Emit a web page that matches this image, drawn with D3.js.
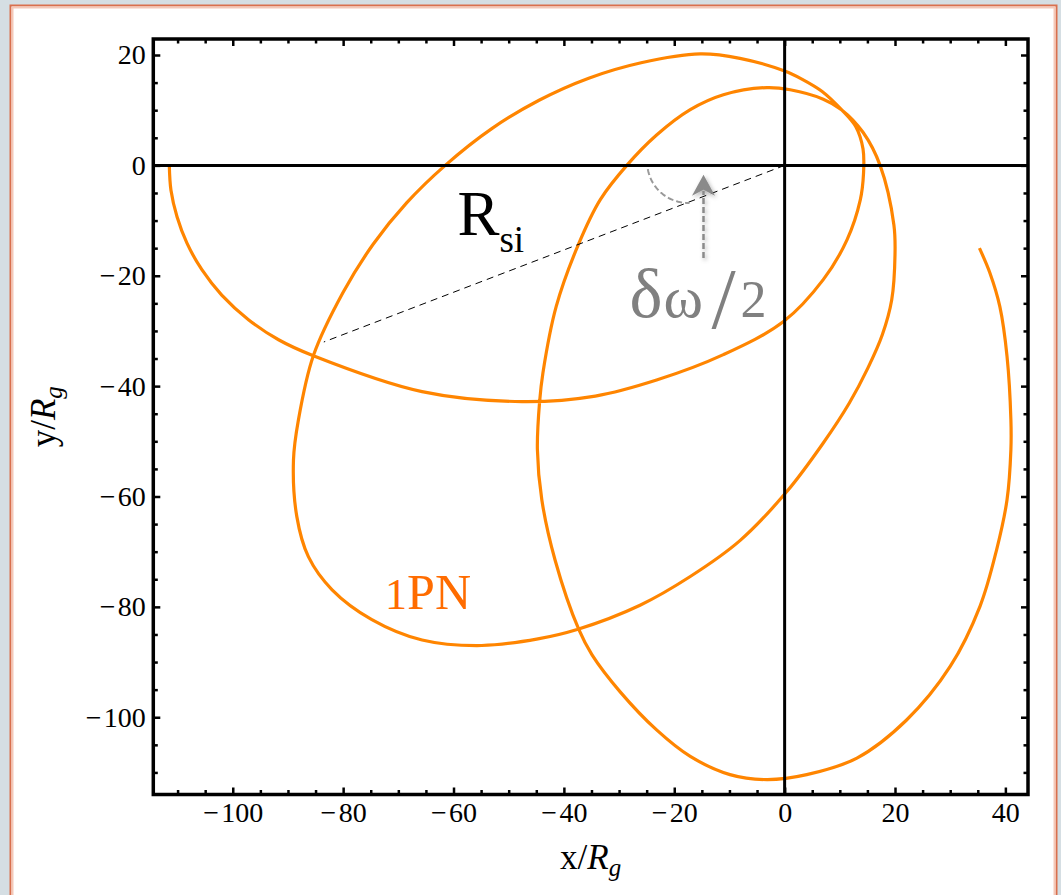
<!DOCTYPE html>
<html>
<head>
<meta charset="utf-8">
<script src="https://cdn.jsdelivr.net/npm/d3@7"></script>
<style>
  html, body { margin: 0; padding: 0; background: #d5dee3; }
  svg { display: block; }
</style>
</head>
<body>
<svg id="chart" width="1061" height="895"></svg>
<script>
// Precessing 1PN orbit around the central mass, in units of R_g,
// traced counter-clockwise: first loop, second loop, third loop.
const loop1 = [
  [-111.5, 0.0], [-111.2, -4.5], [-110.1, -9.3], [-108.3, -14.1], [-105.6, -18.9],
  [-102.0, -23.5], [-97.1, -28.0], [-91.7, -31.6], [-85.4, -34.5], [-65.7, -41.0],
  [-47.6, -42.8], [-34.3, -41.8], [-23.2, -38.9], [-11.1, -34.3], [-0.2, -28.3],
  [7.0, -20.7], [11.3, -13.5], [13.7, -6.3], [14.3, -1.4], [14.2, 3.0],
  [12.9, 7.0], [10.3, 10.1]
];
const loop2 = [
  [6.8, 13.4], [3.2, 15.6], [0.0, 17.1], [-8.1, 19.4], [-15.3, 20.2],
  [-26.0, 18.6], [-35.5, 15.8], [-44.5, 11.8], [-53.0, 6.7], [-61.5, 0.0],
  [-68.5, -6.8], [-74.5, -14.2], [-80.0, -23.0], [-85.4, -34.5], [-88.1, -46.1],
  [-89.0, -53.4], [-88.4, -63.6], [-86.3, -70.9], [-82.0, -76.9], [-74.8, -82.3],
  [-65.7, -86.0], [-54.9, -87.0], [-44.7, -85.8], [-37.6, -84.1], [-26.2, -79.7],
  [-17.1, -74.5], [-8.1, -68.0], [0.4, -59.1], [7.0, -50.3], [11.7, -43.1],
  [15.1, -36.7], [17.7, -30.7], [19.4, -24.4], [20.0, -16.2], [19.8, -10.8],
  [17.3, 0.0], [14.2, 6.0], [10.3, 10.1]
];
const loop3 = [
  [7.0, 12.0], [1.0, 13.7], [-3.2, 14.1], [-11.1, 12.8], [-17.1, 10.1],
  [-23.2, 5.5], [-28.6, 0.0], [-33.4, -6.2], [-37.4, -14.4], [-41.4, -25.6],
  [-43.8, -37.6], [-44.4, -42.8], [-44.8, -51.5], [-44.0, -60.6], [-41.6, -71.5],
  [-37.3, -84.1], [-34.9, -88.7], [-29.8, -95.4], [-23.2, -102.3], [-17.1, -107.1],
  [-9.9, -110.4], [-3.2, -111.3], [4.0, -110.4], [13.1, -107.4], [22.1, -100.5],
  [30.0, -90.8], [35.4, -79.9], [38.4, -69.7], [40.3, -60.6], [41.0, -51.5],
  [41.0, -46.1], [40.3, -34.6], [39.0, -25.6], [37.2, -19.5], [35.3, -15.0]
];

// Self-intersection radius R_si and the half precession angle marker
const radiusEnd = [-83.5, -32.0];
const arrowX = -14.7, arrowFrom = -16.8, arrowTo = -1.7;
const angleArc = { cx: -17.5, cy: 0.6, r: 7.4, from: 190, to: 272 };

// Axis ranges and ticks
const xDomain = [-114.4, 44.1];
const yDomain = [-114.0, 22.9];
const xTicks = [-100, -80, -60, -40, -20, 0, 20, 40];
const yTicks = [-100, -80, -60, -40, -20, 0, 20];
const minorStep = 5;

const plot = { left: 153.3, right: 1028, top: 39, bottom: 794.5 };
const serif = "'Liberation Serif', 'Times New Roman', serif";
const svg = d3.select("#chart");

const x = d3.scaleLinear().domain(xDomain).range([plot.left, plot.right]);
const y = d3.scaleLinear().domain(yDomain).range([plot.bottom, plot.top]);

const defs = svg.append("defs");
defs.append("clipPath").attr("id", "plotClip")
  .append("rect")
  .attr("x", plot.left).attr("y", plot.top)
  .attr("width", plot.right - plot.left).attr("height", plot.bottom - plot.top);
const shadow = defs.append("filter").attr("id", "soft")
  .attr("x", "-50%").attr("y", "-50%").attr("width", "200%").attr("height", "200%");
shadow.append("feDropShadow")
  .attr("dx", 1.5).attr("dy", 2).attr("stdDeviation", 2)
  .attr("flood-color", "#000").attr("flood-opacity", 0.3);

// Notebook-style panel
svg.append("rect")
  .attr("x", 10.5).attr("y", 5.5).attr("width", 1046).attr("height", 920)
  .attr("fill", "#ffffff").attr("stroke", "#d9704e").attr("stroke-width", 2);
svg.append("rect")
  .attr("x", 12.5).attr("y", 7.5).attr("width", 1042).attr("height", 916)
  .attr("fill", "none").attr("stroke", "#f4c8b8").attr("stroke-width", 2);

// Orbit
const orbit = loop1.concat(loop2, loop3);
const line = d3.line()
  .x(d => x(d[0])).y(d => y(d[1]))
  .curve(d3.curveCatmullRom.alpha(0.5));

const inner = svg.append("g").attr("clip-path", "url(#plotClip)");
inner.append("path")
  .datum(orbit)
  .attr("d", line)
  .attr("fill", "none")
  .attr("stroke", "#ff8500")
  .attr("stroke-width", 3.2)
  .attr("stroke-linejoin", "round")
  .attr("stroke-linecap", "butt");

// Coordinate axes through the origin
inner.append("line")
  .attr("x1", plot.left).attr("x2", plot.right)
  .attr("y1", y(0)).attr("y2", y(0))
  .attr("stroke", "#000").attr("stroke-width", 3);
inner.append("line")
  .attr("x1", x(0)).attr("x2", x(0))
  .attr("y1", plot.top).attr("y2", plot.bottom)
  .attr("stroke", "#000").attr("stroke-width", 3);

// R_si radius
inner.append("line")
  .attr("x1", x(0)).attr("y1", y(0))
  .attr("x2", x(radiusEnd[0])).attr("y2", y(radiusEnd[1]))
  .attr("stroke", "#000").attr("stroke-width", 1)
  .attr("stroke-dasharray", "7,5");

// Angle arc (dashed, gray)
const k = x(1) - x(0);
const arcPts = d3.range(angleArc.from, angleArc.to + 0.1, 2).map(a => {
  const t = a * Math.PI / 180;
  return [x(angleArc.cx) + angleArc.r * k * Math.cos(t), y(angleArc.cy) - angleArc.r * k * Math.sin(t)];
});
inner.append("path")
  .attr("d", d3.line()(arcPts))
  .attr("fill", "none").attr("stroke", "#999999")
  .attr("stroke-width", 2).attr("stroke-dasharray", "6,3");

// Arrow pointing at the angle
const arrow = inner.append("g").attr("filter", "url(#soft)");
const tipY = y(arrowTo), ax = x(arrowX);
arrow.append("line")
  .attr("x1", ax).attr("x2", ax)
  .attr("y1", y(arrowFrom)).attr("y2", tipY + 16)
  .attr("stroke", "#8a8a8a").attr("stroke-width", 2.5)
  .attr("stroke-dasharray", "6,3");
arrow.append("path")
  .attr("d", `M${ax},${tipY} L${ax + 11.5},${tipY + 21} L${ax},${tipY + 15} L${ax - 11.5},${tipY + 21} Z`)
  .attr("fill", "#8a8a8a");

// Labels inside the plot
const rsi = svg.append("text")
  .attr("x", x(-59.3)).attr("y", y(-12.6))
  .attr("font-family", serif)
  .attr("font-size", 63).attr("fill", "#000");
rsi.append("tspan").text("R");
rsi.append("tspan").attr("font-size", 37).attr("dy", 17).text("si");

const dwx = x(-28.1), dwy = y(-27.4);
const dw = svg.append("text")
  .attr("x", dwx).attr("y", dwy)
  .attr("font-family", serif).attr("fill", "#808080");
dw.append("tspan").attr("x", dwx).attr("y", dwy).attr("font-size", 70).text("δ");
dw.append("tspan").attr("x", dwx + 34).attr("y", dwy).attr("font-size", 60).text("ω");
dw.append("tspan").attr("x", dwx + 82).attr("y", dwy + 11).attr("font-size", 87).text("/");
dw.append("tspan").attr("x", dwx + 111).attr("y", dwy).attr("font-size", 52).text("2");

const pn = svg.append("text")
  .attr("x", x(-72.4)).attr("y", y(-80.3))
  .attr("font-family", serif).attr("fill", "#ff6c00");
pn.append("tspan").attr("font-size", 44).text("1");
pn.append("tspan").attr("font-size", 50).text("PN");

// Frame with inward ticks on all sides
const fmt = d => d < 0 ? "\u2212\u200A" + Math.abs(d) : String(d);
const xMinor = d3.range(-110, 45, minorStep).filter(v => !xTicks.includes(v));
const yMinor = d3.range(-110, 25, minorStep).filter(v => !yTicks.includes(v));

function styleAxis(g) {
  g.select(".domain").remove();
  g.selectAll(".tick line").attr("stroke", "#000").attr("stroke-width", 2.5);
  g.selectAll(".tick text")
    .attr("font-family", serif)
    .attr("font-size", 28).attr("fill", "#000");
  g.attr("font-family", null).attr("font-size", null);
}

const axes = svg.append("g");
axes.append("g").attr("transform", `translate(0,${plot.bottom})`)
  .call(d3.axisBottom(x).tickValues(xTicks).tickSize(-7).tickPadding(8).tickFormat(fmt)).call(styleAxis);
axes.append("g").attr("transform", `translate(0,${plot.bottom})`)
  .call(d3.axisBottom(x).tickValues(xMinor).tickSize(-4.5).tickFormat("")).call(styleAxis);
axes.append("g").attr("transform", `translate(0,${plot.top})`)
  .call(d3.axisTop(x).tickValues(xTicks).tickSize(-7).tickFormat("")).call(styleAxis);
axes.append("g").attr("transform", `translate(0,${plot.top})`)
  .call(d3.axisTop(x).tickValues(xMinor).tickSize(-4.5).tickFormat("")).call(styleAxis);
axes.append("g").attr("transform", `translate(${plot.left},0)`)
  .call(d3.axisLeft(y).tickValues(yTicks).tickSize(-7).tickPadding(7.5).tickFormat(fmt)).call(styleAxis);
axes.append("g").attr("transform", `translate(${plot.left},0)`)
  .call(d3.axisLeft(y).tickValues(yMinor).tickSize(-4.5).tickFormat("")).call(styleAxis);
axes.append("g").attr("transform", `translate(${plot.right},0)`)
  .call(d3.axisRight(y).tickValues(yTicks).tickSize(-7).tickFormat("")).call(styleAxis);
axes.append("g").attr("transform", `translate(${plot.right},0)`)
  .call(d3.axisRight(y).tickValues(yMinor).tickSize(-4.5).tickFormat("")).call(styleAxis);

svg.append("rect")
  .attr("x", plot.left).attr("y", plot.top)
  .attr("width", plot.right - plot.left).attr("height", plot.bottom - plot.top)
  .attr("fill", "none").attr("stroke", "#000").attr("stroke-width", 3.5);

// Axis titles
const xt = svg.append("text")
  .attr("x", (plot.left + plot.right) / 2).attr("y", 869)
  .attr("text-anchor", "middle")
  .attr("font-family", serif)
  .attr("font-size", 35).attr("fill", "#000");
xt.append("tspan").text("x/");
xt.append("tspan").attr("font-style", "italic").text("R");
xt.append("tspan").attr("font-style", "italic").attr("font-size", 25).attr("dy", 7).text("g");

const yt = svg.append("text")
  .attr("transform", `translate(55,${(plot.top + plot.bottom) / 2}) rotate(-90)`)
  .attr("text-anchor", "middle")
  .attr("font-family", serif)
  .attr("font-size", 35).attr("fill", "#000");
yt.append("tspan").text("y/");
yt.append("tspan").attr("font-style", "italic").text("R");
yt.append("tspan").attr("font-style", "italic").attr("font-size", 25).attr("dy", 7).text("g");
</script>
</body>
</html>
